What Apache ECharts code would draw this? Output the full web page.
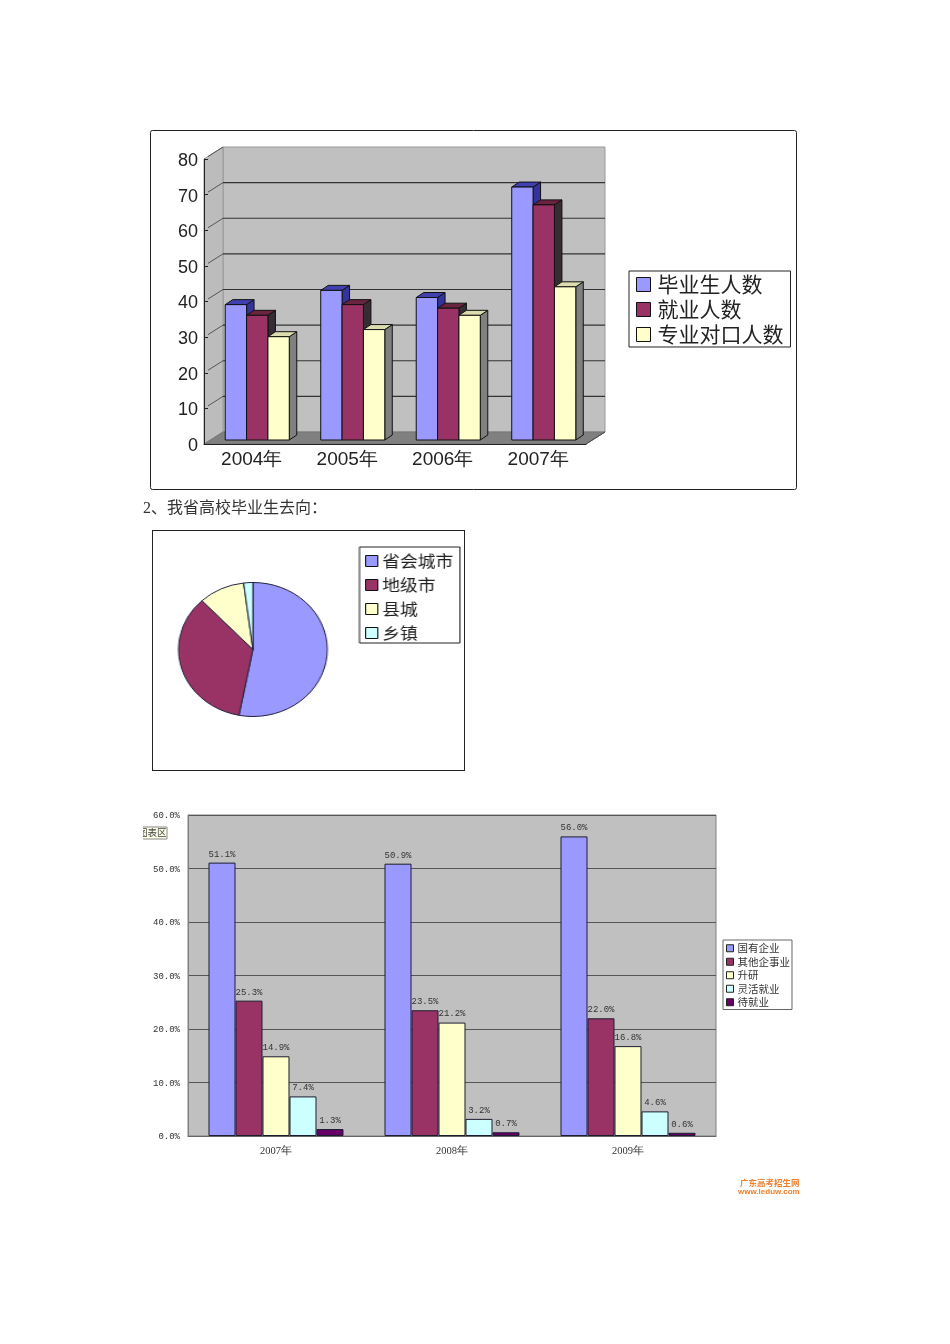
<!DOCTYPE html>
<html><head><meta charset="utf-8">
<style>
html,body{margin:0;padding:0;background:#fff;width:950px;height:1344px;overflow:hidden}
#main{position:absolute;left:0;top:0;width:950px;height:1344px}
#pieBox{position:absolute;left:152px;top:530px;width:311px;height:239px;border:1px solid #222;background:#fff;overflow:hidden}
#pie{position:absolute;left:0;top:0;width:280px;height:239px;transform-origin:0 0;transform:scaleX(1.11)}
</style>
<script src="https://cdn.jsdelivr.net/npm/echarts@6/dist/echarts.min.js"></script>
</head><body>
<div id="main"></div>
<div id="pieBox"><div id="pie"></div></div>
<script>
// Chart 1
const years1 = ['2004年','2005年','2006年','2007年'];
const graduates = [38,42,40,71];
const employed = [35,38,37,66];
const matched = [29,31,35,43];
const names1 = ['毕业生人数','就业人数','专业对口人数'];
const yTicks1 = [0,10,20,30,40,50,60,70,80];
// Chart 2
const pieNames = ['省会城市','地级市','县城','乡镇'];
const pieValues = [53,35,10,2];
// Chart 3
const years3 = ['2007年','2008年','2009年'];
const stateOwned = [51.1,50.9,56.0];
const otherEnt = [25.3,23.5,22.0];
const furtherStudy = [14.9,21.2,16.8];
const flexible = [7.4,3.2,4.6];
const waiting = [1.3,0.7,0.6];
const names3 = ['国有企业','其他企事业','升研','灵活就业','待就业'];

const pal = ['#9999ff','#993366','#ffffcc','#ccffff','#660066'];
const sideCol = ['#333399','#352c34','#808080'];
const topCol = ['#4040b0','#6b2440','#dcdcb0'];
const DX=19, DY=12;          // wall depth
const FX=5.5, FY=4;          // bar front-plane offset
const BX=7.5, BY=5;          // bar depth
const BAND_FRAC=0.2235;

function wallRender(params, api){
  const band = api.size([1,0])[0];
  const x0 = api.coord([0,0])[0]-band/2;
  const x1 = api.coord([years1.length-1,0])[0]+band/2;
  const y0 = api.coord([0,yTicks1[0]])[1];
  const yT = api.coord([0,yTicks1[yTicks1.length-1]])[1];
  const ch=[];
  ch.push({type:'polygon',shape:{points:[[x0+DX,yT-DY],[x1+DX,yT-DY],[x1+DX,y0-DY],[x0+DX,y0-DY]]},style:{fill:'#c0c0c0',stroke:'#999',lineWidth:1}});
  ch.push({type:'polygon',shape:{points:[[x0,yT],[x0+DX,yT-DY],[x0+DX,y0-DY],[x0,y0]]},style:{fill:'#bcbcbc',stroke:'#999',lineWidth:1}});
  ch.push({type:'polygon',shape:{points:[[x0,y0],[x1,y0],[x1+DX,y0-DY],[x0+DX,y0-DY]]},style:{fill:'#808080',stroke:'#777',lineWidth:1}});
  yTicks1.forEach(t=>{
    if(t===0) return;
    const y=api.coord([0,t])[1];
    if(t!==yTicks1[yTicks1.length-1])
      ch.push({type:'line',shape:{x1:x0+DX,y1:y-DY,x2:x1+DX,y2:y-DY},style:{stroke:'#333',lineWidth:1.2}});
    ch.push({type:'line',shape:{x1:x0+4,y1:y-2.5,x2:x0+DX,y2:y-DY},style:{stroke:'#555',lineWidth:1}});
  });
  ch.push({type:'line',shape:{x1:x1,y1:y0,x2:x1+DX,y2:y0-DY},style:{stroke:'#444',lineWidth:1}});
  return {type:'group',children:ch};
}
function bar3d(idx){
  return function(params, api){
    const cat=api.value(0), v=api.value(1);
    const band=api.size([1,0])[0];
    const w=band*BAND_FRAC;
    const c=api.coord([cat,v]), b=api.coord([cat,0]);
    const l=c[0]+FX-1.5*w+idx*w, r=l+w, t=c[1]-FY, bt=b[1]-FY;
    const st={stroke:'#111',lineWidth:1,lineJoin:'round'};
    return {type:'group',children:[
      {type:'polygon',shape:{points:[[r,t],[r+BX,t-BY],[r+BX,bt-BY],[r,bt]]},style:{fill:sideCol[idx],...st}},
      {type:'polygon',shape:{points:[[l,t],[l+BX,t-BY],[r+BX,t-BY],[r,t]]},style:{fill:topCol[idx],...st}},
      {type:'rect',shape:{x:l,y:t,width:w,height:bt-t},style:{fill:pal[idx],...st}}
    ]};
  };
}
const s1=[graduates,employed,matched].map((arr,i)=>({
  type:'custom',name:names1[i],xAxisIndex:0,yAxisIndex:0,z:3,
  itemStyle:{color:pal[i]},
  renderItem:bar3d(i),encode:{x:0,y:1},
  data:arr.map((v,j)=>[j,v])
}));
const wall={type:'custom',name:'wall',xAxisIndex:0,yAxisIndex:0,z:1,silent:true,renderItem:wallRender,encode:{x:0,y:1},data:[[0,0]]};
const s3=[stateOwned,otherEnt,furtherStudy,flexible,waiting].map((arr,i)=>({
  type:'bar',name:names3[i],xAxisIndex:1,yAxisIndex:1,data:arr,barGap:0,barCategoryGap:'23.3%',
  itemStyle:{color:pal[i],borderColor:'#1c1c30',borderWidth:1},
  label:{show:true,position:'top',distance:4,formatter:p=>p.value.toFixed(1)+'%',
    fontFamily:'Liberation Mono',fontSize:9,color:'#333'}
}));
const mono={fontFamily:'Liberation Mono',fontSize:9,color:'#333'};
const cjk='"Noto Sans CJK SC"';
const main=echarts.init(document.getElementById('main'),null,{renderer:'canvas'});
main.setOption({
  animation:false,backgroundColor:'#fff',
  grid:[
    {left:204,top:159,width:382,height:285},
    {left:188,top:815,width:528,height:321,show:true,backgroundColor:'#c0c0c0',borderColor:'#808080',borderWidth:1,z:0}
  ],
  xAxis:[
    {type:'category',gridIndex:0,data:years1,z:5,axisLine:{lineStyle:{color:'#222'}},axisTick:{length:3,lineStyle:{color:'#222'}},
      axisLabel:{fontFamily:'Liberation Sans',fontSize:19,color:'#222',margin:6}},
    {type:'category',gridIndex:1,data:years3,axisLine:{lineStyle:{color:'#666'}},axisTick:{length:2,lineStyle:{color:'#666'}},
      axisLabel:{fontFamily:'Liberation Serif',fontSize:10.5,color:'#333',margin:10}}
  ],
  yAxis:[
    {type:'value',gridIndex:0,min:0,max:80,interval:10,z:5,splitLine:{show:false},
      axisLine:{show:true,lineStyle:{color:'#222'}},axisTick:{show:true,inside:true,length:4,lineStyle:{color:'#222'}},
      axisLabel:{fontFamily:'Liberation Sans',fontSize:18,color:'#222',margin:6,verticalAlign:'top',lineHeight:18,padding:[-7,0,0,0]}},
    {type:'value',gridIndex:1,min:0,max:60,interval:10,
      splitLine:{show:true,lineStyle:{color:'#555',width:1}},
      axisLine:{show:true,lineStyle:{color:'#808080'}},axisTick:{show:false},
      axisLabel:{...mono,margin:8,verticalAlign:'top',lineHeight:9,padding:[-3.5,0,0,0],formatter:v=>v.toFixed(1)+'%'}}
  ],
  legend:[
    {left:629,top:271,orient:'vertical',selectedMode:false,backgroundColor:'#fff',borderColor:'#222',borderWidth:1,
      padding:[3,7,2,7],itemGap:4,itemWidth:14,itemHeight:14,
      textStyle:{fontFamily:cjk,fontSize:21,color:'#222',padding:[0,0,0,2]},
      data:names1.map((n,i)=>({name:n,icon:'rect',itemStyle:{color:pal[i],borderColor:'#111',borderWidth:1}}))},
    {left:723,top:940,orient:'vertical',selectedMode:false,backgroundColor:'#fff',borderColor:'#666',borderWidth:1,
      padding:[3,2,2,3],itemGap:3,itemWidth:7,itemHeight:7,
      textStyle:{fontFamily:cjk,fontSize:10.5,color:'#333',padding:[0,0,0,-1]},
      data:names3.map((n,i)=>({name:n,icon:'rect',itemStyle:{color:pal[i],borderColor:'#222',borderWidth:1}}))}
  ],
  series:[wall,...s1,...s3],
  graphic:[
    {type:'rect',z:0,shape:{x:150.5,y:130.5,width:646,height:359,r:2},style:{fill:'none',stroke:'#222',lineWidth:1},silent:true},
    {type:'text',left:143,top:501,style:{text:'2\u3001我省高校毕业生去向\uFF1A',font:'16px "Liberation Serif","Noto Sans CJK SC"',fill:'#333'}},
    {type:'rect',z:20,shape:{x:135,y:827,width:32,height:12},style:{fill:'#ffffe8',stroke:'#888',lineWidth:1}},
    {type:'text',z:21,x:138,y:827.5,style:{text:'图表区',font:'9.5px "Noto Sans CJK SC"',fill:'#444'}},
    {type:'rect',z:22,shape:{x:130,y:825,width:13,height:16},style:{fill:'#fff'}},
    {type:'text',z:5,x:740,y:1179,style:{text:'广东高考招生网',font:'bold 8.5px "Noto Sans CJK SC"',fill:'#ee8030'}},
    {type:'text',z:5,x:738,y:1188,style:{text:'www.leduw.com',font:'bold 8px "Liberation Sans"',fill:'#ee8030'}}
  ]
});
const pie=echarts.init(document.getElementById('pie'),null,{renderer:'canvas'});
pie.setOption({
  animation:false,
  legend:{left:186,top:16,orient:'vertical',selectedMode:false,borderColor:'#222',borderWidth:1,backgroundColor:'#fff',
    padding:[6,6,2,5],itemGap:8,itemWidth:11,itemHeight:11,
    textStyle:{fontFamily:cjk,fontSize:16,color:'#222',padding:[0,0,0,-1]},
    data:pieNames.map((n,i)=>({name:n,icon:'rect',itemStyle:{color:pal[i],borderColor:'#111',borderWidth:1}}))},
  series:[{type:'pie',center:[90,118.5],radius:[0,67],startAngle:90,clockwise:true,
    label:{show:false},labelLine:{show:false},silent:true,
    itemStyle:{borderColor:'#22223a',borderWidth:1},
    data:pieNames.map((n,i)=>({name:n,value:pieValues[i],itemStyle:{color:pal[i]}}))}]
});
</script>
</body></html>
